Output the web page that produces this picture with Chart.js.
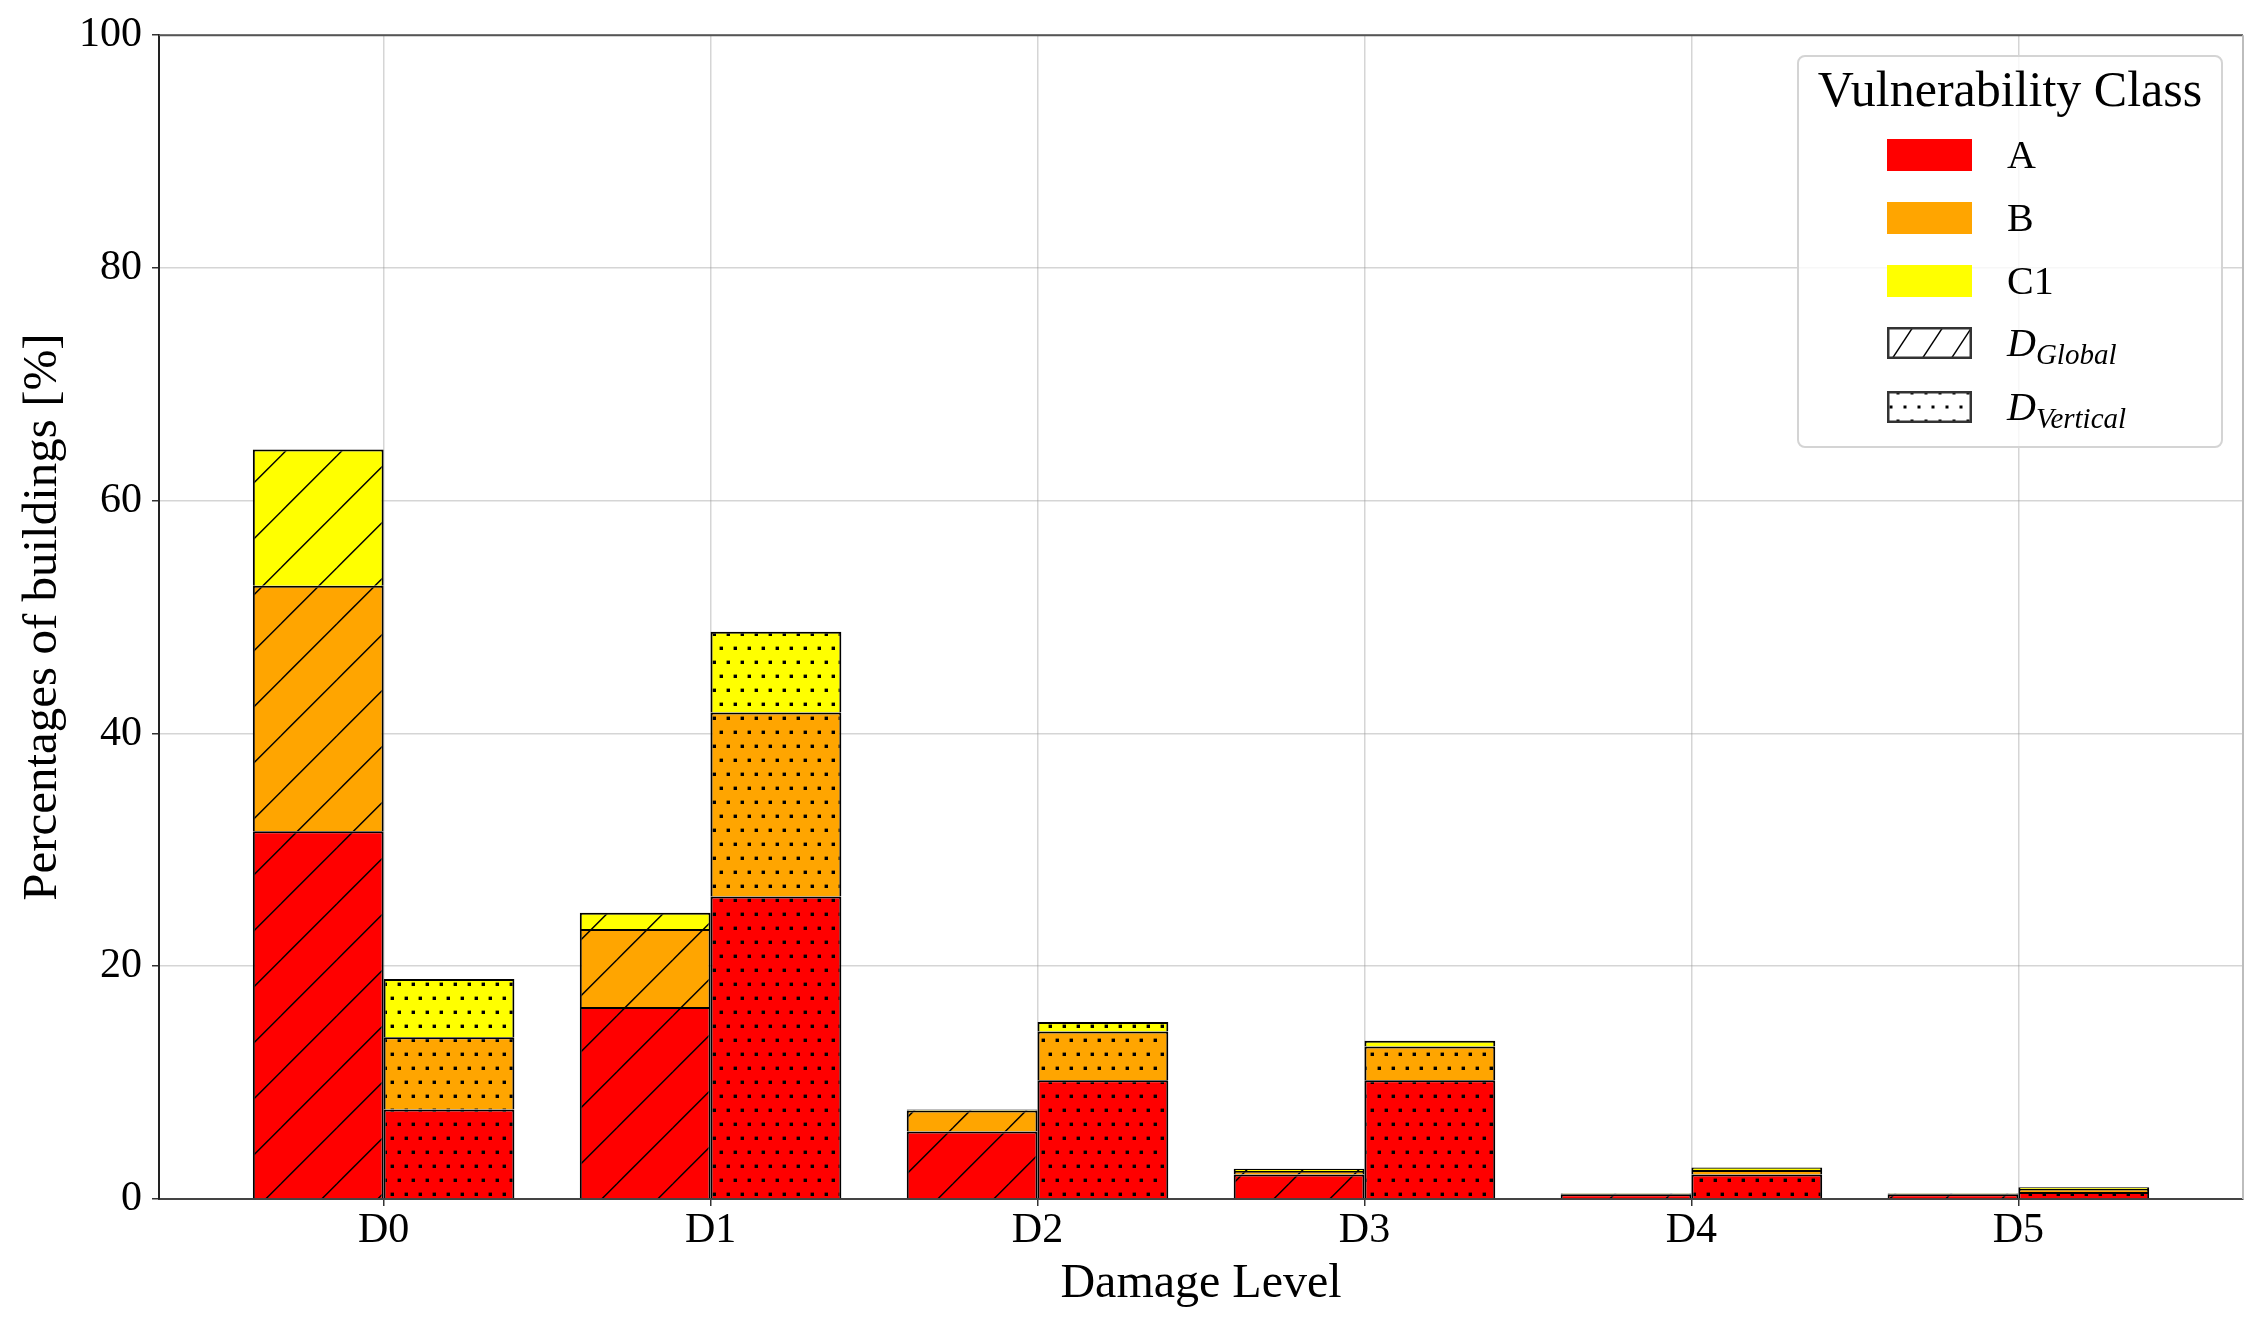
<!DOCTYPE html>
<html>
<head>
<meta charset="utf-8">
<script src="https://cdn.jsdelivr.net/npm/chart.js@4.4.1/dist/chart.umd.min.js"></script>
<style>
html,body{margin:0;padding:0;background:#fff;}
#wrap{position:relative;width:2266px;height:1332px;}
#legend{position:absolute;left:1797px;top:55px;width:422px;height:389px;border:2px solid #d4d4d4;border-radius:8px;background:rgba(255,255,255,0.8);font-family:"Liberation Serif",serif;color:#000;}
#legend .title{position:absolute;left:0;width:422px;top:7px;text-align:center;font-size:50px;line-height:50px;white-space:nowrap;}
#legend .row{position:absolute;left:88px;height:32px;display:flex;align-items:center;}
#legend .sw{width:85px;height:32px;flex:none;}
#legend .sw canvas{display:block;}
#legend .lab{margin-left:35px;font-size:40px;line-height:32px;white-space:nowrap;}
#legend sub{font-size:29px;vertical-align:-8px;line-height:0;}
</style>
</head>
<body>
<div id="wrap">
  <canvas id="c" width="2266" height="1332"></canvas>
  <div id="legend">
    <div class="title">Vulnerability Class</div>
    <div class="row" style="top:82px"><div class="sw" style="background:#ff0000"></div><span class="lab">A</span></div>
    <div class="row" style="top:145px"><div class="sw" style="background:#ffa500"></div><span class="lab">B</span></div>
    <div class="row" style="top:208px"><div class="sw" style="background:#ffff00"></div><span class="lab">C1</span></div>
    <div class="row" style="top:270px"><div class="sw"><canvas id="swG" width="85" height="32"></canvas></div><span class="lab"><i>D</i><sub><i>Global</i></sub></span></div>
    <div class="row" style="top:334px"><div class="sw"><canvas id="swV" width="85" height="32"></canvas></div><span class="lab"><i>D</i><sub><i>Vertical</i></sub></span></div>
  </div>
</div>
<script>
// ---- data ----
const categories = ['D0', 'D1', 'D2', 'D3', 'D4', 'D5'];
const classNames = ['A', 'B', 'C1'];
const globalA  = [31.6, 16.5, 5.8, 2.1, 0.4, 0.4];
const globalB  = [21.1, 6.7, 1.8, 0.3, 0.05, 0.05];
const globalC1 = [11.7, 1.4, 0.1, 0.2, 0.05, 0.05];
const vertA    = [7.7, 26.0, 10.2, 10.2, 2.1, 0.6];
const vertB    = [6.2, 15.8, 4.2, 2.9, 0.4, 0.25];
const vertC1   = [5.0, 6.95, 0.8, 0.5, 0.2, 0.15];
const yTicks   = [0, 20, 40, 60, 80, 100];

const colors = {A: '#ff0000', B: '#ffa500', C1: '#ffff00'};

function hatchPattern(color) {
  const s = 56, cv = document.createElement('canvas');
  cv.width = s; cv.height = s;
  const g = cv.getContext('2d');
  g.fillStyle = color; g.fillRect(0, 0, s, s);
  g.strokeStyle = '#000'; g.lineWidth = 1.5;
  const c0 = 8.7;
  for (const k of [-1, 0, 1, 2]) {
    const cc = c0 + k * s;
    g.beginPath(); g.moveTo(cc + 10, -10); g.lineTo(cc - s - 10, s + 10); g.stroke();
  }
  return g.createPattern(cv, 'repeat');
}
function dotPattern(color) {
  const w = 14, h = 28, cv = document.createElement('canvas');
  cv.width = w; cv.height = h;
  const g = cv.getContext('2d');
  g.fillStyle = color; g.fillRect(0, 0, w, h);
  g.fillStyle = '#000';
  const pts = [[0.3, 18.3], [7.3, 4.3]];
  for (const [x, y] of pts) {
    for (const dx of [-w, 0, w]) for (const dy of [-h, 0, h]) {
      g.fillRect(x + dx - 1.7, y + dy - 1.7, 3.4, 3.4);
    }
  }
  return g.createPattern(cv, 'repeat');
}

function ds(label, stack, values, fill) {
  return {
    label: label, stack: stack,
    data: values.map((v, i) => ({x: i, y: v})),
    backgroundColor: fill,
    borderColor: '#000',
    borderWidth: 2,
    barPercentage: 1.0,
    categoryPercentage: 0.8
  };
}

const datasets = [
  ds('A', 'Global', globalA, hatchPattern(colors.A)),
  ds('B', 'Global', globalB, hatchPattern(colors.B)),
  ds('C1', 'Global', globalC1, hatchPattern(colors.C1)),
  ds('A', 'Vertical', vertA, dotPattern(colors.A)),
  ds('B', 'Vertical', vertB, dotPattern(colors.B)),
  ds('C1', 'Vertical', vertC1, dotPattern(colors.C1))
];

const frame = {
  id: 'frame',
  afterDraw(chart) {
    const {ctx, chartArea: a} = chart;
    ctx.save();
    ctx.lineWidth = 2;
    ctx.strokeStyle = '#555';
    ctx.beginPath(); ctx.moveTo(a.left, a.top); ctx.lineTo(a.right, a.top); ctx.stroke();
    ctx.strokeStyle = '#bdbdbd';
    ctx.beginPath(); ctx.moveTo(a.right, a.top); ctx.lineTo(a.right, a.bottom); ctx.stroke();
    ctx.restore();
  }
};

Chart.defaults.font.family = '"Liberation Serif", "Times New Roman", serif';
Chart.defaults.color = '#000';

new Chart(document.getElementById('c'), {
  type: 'bar',
  data: {datasets: datasets},
  plugins: [frame],
  options: {
    responsive: false,
    animation: false,
    devicePixelRatio: 1,
    layout: {padding: {left: 0, right: 23, top: 33, bottom: 0}},
    plugins: {legend: {display: false}, tooltip: {enabled: false}},
    scales: {
      x: {
        type: 'linear',
        min: -0.687, max: 5.687,
        offset: false,
        z: 1,
        afterBuildTicks: s => { s.ticks = categories.map((c, i) => ({value: i})); },
        ticks: {
          callback: v => categories[v],
          font: {size: 42}, color: '#000', padding: 0,
          maxRotation: 0, autoSkip: false
        },
        grid: {offset: false, color: 'rgba(150,150,150,0.4)', lineWidth: 1.5, tickLength: 7, tickColor: '#333', tickWidth: 1.5},
        border: {color: '#444', width: 2},
        title: {display: true, text: 'Damage Level', font: {size: 48}, color: '#000', padding: {top: 0, bottom: 19}},
        afterFit: s => { s.height = 133; }
      },
      y: {
        stacked: true,
        min: 0, max: 100,
        z: 1,
        afterBuildTicks: s => { s.ticks = yTicks.map(v => ({value: v})); },
        ticks: {font: {size: 42}, color: '#000', padding: 10},
        grid: {color: 'rgba(150,150,150,0.4)', lineWidth: 1.5, tickLength: 7, tickColor: '#333', tickWidth: 1.5},
        border: {color: '#222', width: 2},
        title: {display: true, text: 'Percentages of buildings [%]', font: {size: 49}, color: '#000', padding: {top: 14, bottom: 0}},
        afterFit: s => { s.width = 159; }
      }
    }
  }
});

// legend swatches
(function () {
  const g = document.getElementById('swG').getContext('2d');
  g.fillStyle = '#fff'; g.fillRect(0, 0, 85, 32);
  g.strokeStyle = '#000'; g.lineWidth = 1.4;
  for (const x of [5, 35, 64]) { g.beginPath(); g.moveTo(x, 32); g.lineTo(x + 21, 0); g.stroke(); }
  g.strokeStyle = '#333'; g.lineWidth = 2.5; g.strokeRect(1.25, 1.25, 82.5, 29.5);
  const v = document.getElementById('swV').getContext('2d');
  v.fillStyle = '#fff'; v.fillRect(0, 0, 85, 32);
  v.fillStyle = '#000';
  for (let x = 4; x < 85; x += 14) {
    v.fillRect(x - 1.5, 16 - 1.5, 3, 3);
    v.fillRect(x + 7 - 1.5, 2 - 1.5, 3, 3);
    v.fillRect(x + 7 - 1.5, 30 - 1.5, 3, 3);
  }
  v.strokeStyle = '#333'; v.lineWidth = 2.5; v.strokeRect(1.25, 1.25, 82.5, 29.5);
})();
</script>
</body>
</html>
